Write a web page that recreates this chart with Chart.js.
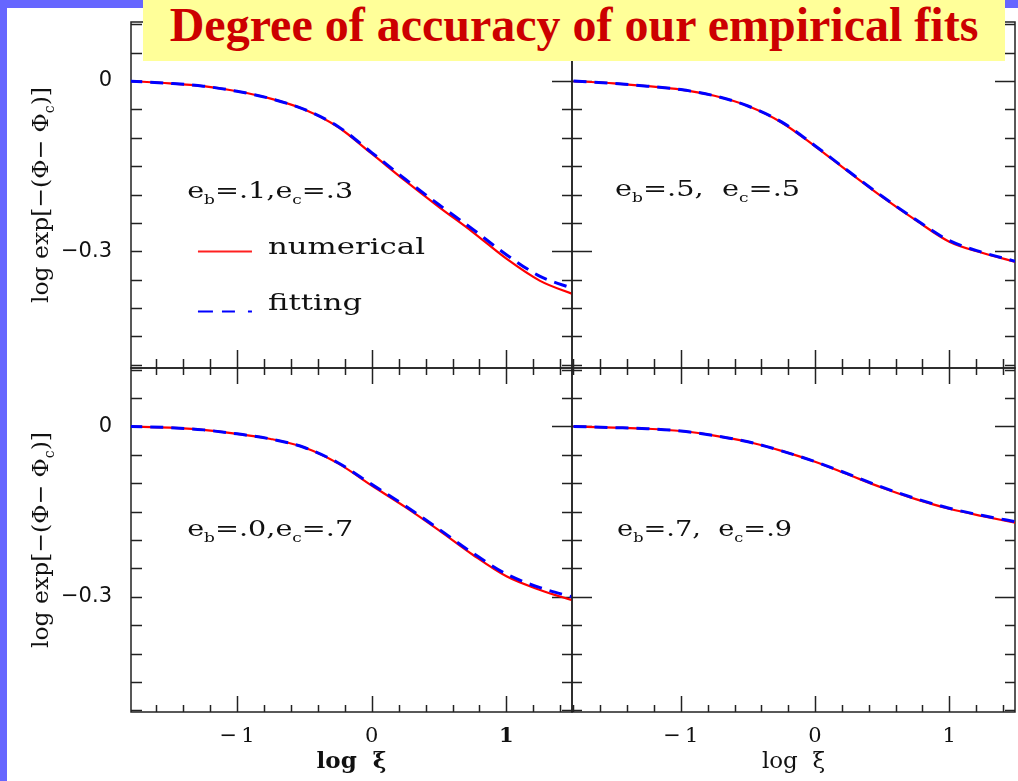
<!DOCTYPE html>
<html><head><meta charset="utf-8">
<script src="https://cdn.jsdelivr.net/npm/chart.js@4.4.1/dist/chart.umd.min.js"></script>
<style>
html,body{margin:0;padding:0;width:1018px;height:781px;overflow:hidden;background:#fff;}
#frameL{position:absolute;left:0;top:0;width:7px;height:781px;background:#6666ff;}
#frameT{position:absolute;left:0;top:0;width:1018px;height:8px;background:#6666ff;}
#title{position:absolute;left:143px;top:0;width:862px;height:61px;background:#ffff99;color:#cc0000;font:bold 48px "Liberation Serif",serif;text-align:center;line-height:50px;white-space:nowrap;z-index:5;}
.pan{position:absolute;}
.pan canvas{display:block;}
</style></head><body>
<div id="frameL"></div><div id="frameT"></div>
<div class="pan" style="left:0;top:0;"><canvas id="cTL" width="575" height="371"></canvas></div>
<div class="pan" style="left:569px;top:0;"><canvas id="cTR" width="449" height="371"></canvas></div>
<div class="pan" style="left:0;top:365px;"><canvas id="cBL" width="575" height="416"></canvas></div>
<div class="pan" style="left:569px;top:365px;"><canvas id="cBR" width="449" height="416"></canvas></div>
<div id="title">Degree of accuracy of our empirical fits</div>
<script>
// ---- data ----
const logXi = [-1.8, -1.5, -1.25, -1.0, -0.75, -0.5, -0.25, 0, 0.25, 0.5, 0.75, 1.0, 1.25, 1.5];
// panel (eb=.1, ec=.3)
const numTL = [0, -0.004, -0.009, -0.018, -0.031, -0.050, -0.081, -0.128, -0.176, -0.222, -0.266, -0.313, -0.352, -0.376];
const fitTL = [0, -0.004, -0.009, -0.018, -0.031, -0.050, -0.080, -0.126, -0.173, -0.218, -0.261, -0.306, -0.344, -0.366];
// panel (eb=.5, ec=.5)
const numTR = [0, -0.004, -0.009, -0.015, -0.026, -0.044, -0.073, -0.115, -0.160, -0.204, -0.245, -0.283, -0.303, -0.319];
const fitTR = [0, -0.004, -0.009, -0.015, -0.026, -0.044, -0.072, -0.114, -0.159, -0.203, -0.244, -0.281, -0.302, -0.318];
// panel (eb=.0, ec=.7)
const numBL = [0, -0.002, -0.006, -0.013, -0.022, -0.037, -0.065, -0.104, -0.142, -0.183, -0.226, -0.264, -0.288, -0.307];
const fitBL = [0, -0.002, -0.006, -0.013, -0.022, -0.037, -0.064, -0.102, -0.140, -0.181, -0.223, -0.260, -0.284, -0.301];
// panel (eb=.7, ec=.9)
const numBR = [0, -0.002, -0.004, -0.008, -0.016, -0.027, -0.043, -0.062, -0.085, -0.108, -0.128, -0.145, -0.158, -0.170];
const fitBR = [0, -0.002, -0.004, -0.008, -0.016, -0.027, -0.043, -0.062, -0.084, -0.107, -0.127, -0.144, -0.157, -0.168];

const yTickValues = [0, -0.3];
const xTickValues = [-1, 0, 1];
const labelTL = [["e", 0], ["b", 1], ["=.1,e", 0], ["c", 1], ["=.3", 0]];
const labelTR = [["e", 0], ["b", 1], ["=.5,  e", 0], ["c", 1], ["=.5", 0]];
const labelBL = [["e", 0], ["b", 1], ["=.0,e", 0], ["c", 1], ["=.7", 0]];
const labelBR = [["e", 0], ["b", 1], ["=.7,  e", 0], ["c", 1], ["=.9", 0]];
const yTitleParts = [["log exp[\u2212(\u03A6\u2212 \u03A6", 0], ["c", 1], [")]", 0]];
const legendNames = ["numerical", "fitting"];

Chart.defaults.color = '#111';
Chart.defaults.font.family = '"DejaVu Sans", sans-serif';

function fmt(v) { return (v < 0 ? '\u2212' : '') + String(Math.abs(v)); }

function drawRich(ctx, parts, x, y, targetW, size, family, rotate) {
  ctx.save();
  const widths = parts.map(([t, sub]) => {
    ctx.font = (sub ? Math.round(size * 0.6) : size) + 'px ' + family;
    return ctx.measureText(t).width;
  });
  const total = widths.reduce((a, b) => a + b, 0);
  const sx = targetW / total;
  ctx.translate(x, y);
  if (rotate) ctx.rotate(-Math.PI / 2);
  ctx.scale(sx, 1);
  ctx.textBaseline = 'alphabetic';
  ctx.textAlign = 'left';
  ctx.fillStyle = '#111';
  let cx = rotate ? -total / 2 : 0;
  parts.forEach(([t, sub], i) => {
    ctx.font = (sub ? Math.round(size * 0.6) : size) + 'px ' + family;
    ctx.fillText(t, cx, sub ? size * 0.28 : 0);
    cx += widths[i];
  });
  ctx.restore();
}

const framePlugin = {
  id: 'frame',
  beforeDatasetsDraw(chart, args, o) {
    const { ctx, chartArea: { left, right, top, bottom }, scales: { x, y } } = chart;
    ctx.save();
    ctx.strokeStyle = '#222';
    ctx.lineWidth = 1.5;
    ctx.beginPath();
    // x ticks every 0.2, major at integers
    for (let k = Math.ceil(x.min * 5); k <= Math.floor(x.max * 5); k++) {
      const px = Math.round(x.getPixelForValue(k / 5)) + 0.5;
      const major = k % 5 === 0;
      const lb = major ? o.xb[0] : o.xb[1];
      const lt = major ? o.xt[0] : o.xt[1];
      ctx.moveTo(px, bottom); ctx.lineTo(px, bottom - lb);
      ctx.moveTo(px, top); ctx.lineTo(px, top + lt);
    }
    // y ticks every 0.05, major at multiples of 0.3
    for (let k = Math.ceil(y.min * 20); k <= Math.floor(y.max * 20); k++) {
      const py = Math.round(y.getPixelForValue(k / 20)) + 0.5;
      const major = k % 6 === 0;
      const ll = major ? o.yl[0] : o.yl[1];
      const lr = major ? o.yr[0] : o.yr[1];
      ctx.moveTo(left, py); ctx.lineTo(left + ll, py);
      ctx.moveTo(right, py); ctx.lineTo(right - lr, py);
    }
    ctx.stroke();
    ctx.strokeRect(left, top, right - left, bottom - top);
    ctx.restore();
  },
  afterDraw(chart, args, o) {
    const { ctx, chartArea: { top, bottom }, scales: { x, y } } = chart;
    drawRich(ctx, o.label, x.getPixelForValue(o.labelAt[0]), y.getPixelForValue(o.labelAt[1]),
      o.labelW, 22, '"DejaVu Serif", serif', false);
    if (o.yTitle) {
      drawRich(ctx, yTitleParts, 48, (top + bottom) / 2, 216, 23, '"DejaVu Serif", serif', true);
    }
    if (o.legend) {
      ctx.save();
      const x0 = x.getPixelForValue(-1.29), x1 = x.getPixelForValue(-0.889);
      const yr = Math.round(y.getPixelForValue(-0.2995)) + 0.5;
      const yb = Math.round(y.getPixelForValue(-0.405)) + 0.5;
      ctx.lineWidth = 2;
      ctx.strokeStyle = '#ff2020';
      ctx.beginPath(); ctx.moveTo(x0, yr); ctx.lineTo(x1, yr); ctx.stroke();
      ctx.strokeStyle = '#0000ff';
      ctx.setLineDash([15, 9, 13, 13]);
      ctx.beginPath(); ctx.moveTo(x0, yb); ctx.lineTo(x1, yb); ctx.stroke();
      ctx.restore();
      const tx = x.getPixelForValue(-0.77);
      drawRich(ctx, [[legendNames[0], 0]], tx, y.getPixelForValue(-0.305), 157, 22, '"DejaVu Serif", serif', false);
      drawRich(ctx, [[legendNames[1], 0]], tx, y.getPixelForValue(-0.403), 94, 22, '"DejaVu Serif", serif', false);
    }
  }
};

function makePanel(id, num, fit, cfg) {
  const mk = arr => logXi.map((v, i) => ({ x: v, y: arr[i] }));
  return new Chart(document.getElementById(id), {
    type: 'line',
    data: {
      datasets: [
        { label: legendNames[0], data: mk(num), borderColor: '#ff0000', borderWidth: 2.2, order: 2,
          pointRadius: 0, cubicInterpolationMode: 'monotone', fill: false },
        { label: legendNames[1], data: mk(fit), borderColor: '#0000ff', borderWidth: 3, order: 1,
          borderDash: [13, 8], pointRadius: 0, cubicInterpolationMode: 'monotone', fill: false }
      ]
    },
    options: {
      responsive: false,
      animation: false,
      events: [],
      layout: { padding: cfg.padding, autoPadding: false },
      plugins: {
        legend: { display: false }, tooltip: { enabled: false },
        frame: cfg.frame
      },
      scales: {
        x: {
          type: 'linear', min: cfg.xr[0], max: cfg.xr[1],
          display: cfg.showX,
          grid: { display: false, drawTicks: false },
          border: { display: false },
          afterBuildTicks: s => { s.ticks = xTickValues.map(v => ({ value: v })); },
          afterFit: s => { if (cfg.showX) s.height = 69; s.paddingLeft = 0; s.paddingRight = 0; },
          ticks: { callback: v => fmt(v).replace('\u2212', '\u2212\u2009'), padding: 12, maxRotation: 0,
                   font: c => ({ size: 21, family: '"DejaVu Serif", serif',
                                 weight: (cfg.boldOne && c.tick && c.tick.value === 1) ? 'bold' : 'normal' }),
                   color: '#111' },
          title: { display: true, text: 'log  \u03BE', padding: { top: 0, bottom: 5 },
                   font: { size: 23, weight: cfg.boldTitle ? 'bold' : 'normal', family: '"DejaVu Serif", serif' }, color: '#111' }
        },
        y: {
          type: 'linear', min: cfg.yr[0], max: cfg.yr[1],
          display: cfg.showY,
          grid: { display: false, drawTicks: false },
          border: { display: false },
          afterBuildTicks: s => { s.ticks = yTickValues.map(v => ({ value: v })); },
          afterFit: s => { if (cfg.showY) s.width = 131; s.paddingTop = 0; s.paddingBottom = 0; },
          ticks: { callback: v => fmt(v), padding: 19,
                   font: { size: 21, family: '"DejaVu Sans", sans-serif' }, color: '#111' }
        }
      }
    },
    plugins: [framePlugin]
  });
}

const xLeft = [-1.787, 1.487], xRight = [-1.811, 1.49];
const yTop = [-0.5055, 0.104], yBot = [-0.503, 0.103];

makePanel('cTL', numTL, fitTL, {
  padding: { top: 22, left: 0, right: 3, bottom: 3 }, xr: xLeft, yr: yTop, showX: false, showY: true,
  frame: { xb: [18, 9], xt: [16, 8], yl: [11, 11], yr: [20, 10], label: labelTL, labelAt: [-1.37, -0.206], labelW: 166,
           yTitle: true, legend: true }
});
makePanel('cTR', numTR, fitTR, {
  padding: { top: 22, left: 3, right: 3, bottom: 3 }, xr: xRight, yr: yTop, showX: false, showY: false,
  frame: { xb: [18, 9], xt: [16, 8], yl: [20, 10], yr: [20, 10], label: labelTR, labelAt: [-1.49, -0.203], labelW: 185 }
});
makePanel('cBL', numBL, fitBL, {
  padding: { top: 3, left: 0, right: 3, bottom: 0 }, xr: xLeft, yr: yBot, showX: true, showY: true,
  boldOne: true, boldTitle: true,
  frame: { xb: [16, 7], xt: [16, 7], yl: [11, 11], yr: [20, 10], label: labelBL, labelAt: [-1.37, -0.193], labelW: 166,
           yTitle: true }
});
makePanel('cBR', numBR, fitBR, {
  padding: { top: 3, left: 3, right: 3, bottom: 0 }, xr: xRight, yr: yBot, showX: true, showY: false,
  frame: { xb: [16, 7], xt: [16, 7], yl: [20, 10], yr: [20, 10], label: labelBR, labelAt: [-1.475, -0.193], labelW: 175 }
});
</script>
</body></html>
